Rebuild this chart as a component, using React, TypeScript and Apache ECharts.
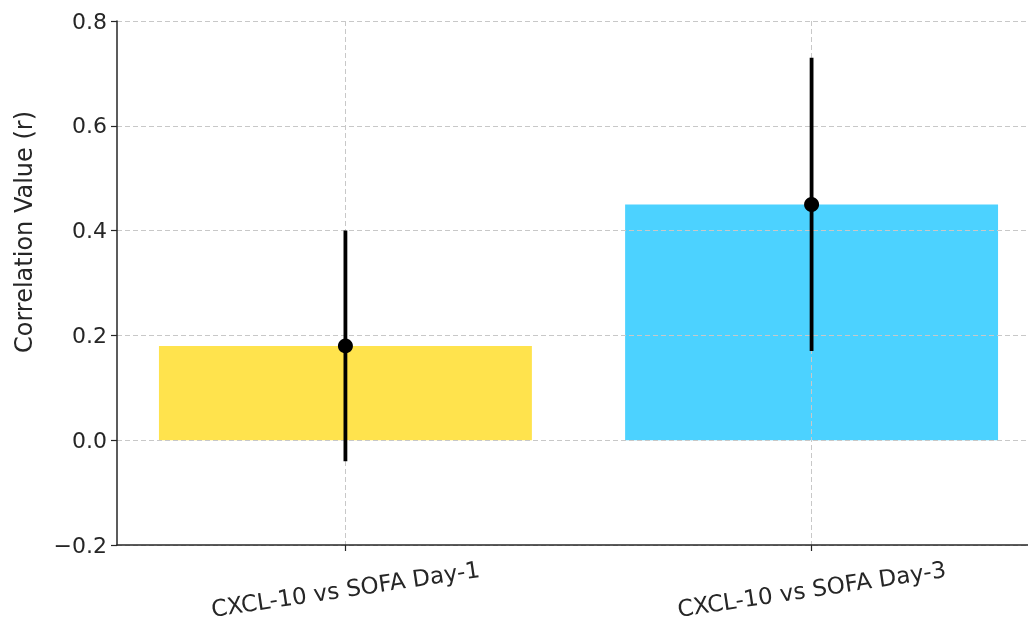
import React, { useEffect, useRef } from "react";
import * as echarts from "echarts";

const categories = ["CXCL-10 vs SOFA Day-1", "CXCL-10 vs SOFA Day-3"];
const positions = [0, 1];
const correlations = [0.18, 0.45];
const ciLower = [-0.04, 0.17];
const ciUpper = [0.4, 0.73];
const barColors = ["#FFE34D", "#4CD2FF"];
const yTicks = [-0.2, 0, 0.2, 0.4, 0.6, 0.8];

const FONT = "DejaVu Sans";

export default function App() {
  const ref = useRef<HTMLDivElement>(null);
  useEffect(() => {
    const chart = echarts.init(ref.current!, null, { renderer: "svg" });
    const splitStyle = { color: "#c8c8c8", width: 1, type: [5, 3] as any };
    const option: any = {
      animation: false,
      grid: { left: 117, right: -12, top: 21, bottom: 81, containLabel: false, outerBoundsMode: "none" },
      xAxis: {
        type: "value",
        min: -0.49,
        max: 1.49,
        z: 1,
        axisLine: { show: true, onZero: false, lineStyle: { color: "#262626", width: 1.5 } },
        axisTick: { show: true, customValues: positions, length: 6, lineStyle: { color: "#262626", width: 1.2 } },
        axisLabel: {
          customValues: positions,
          rotate: 8.5,
          align: "center",
          verticalAlign: "middle",
          margin: 44,
          fontFamily: FONT,
          fontSize: 23,
          color: "#262626",
          formatter: (v: number) => categories[Math.round(v)] ?? "",
        },
        splitLine: { show: true, lineStyle: splitStyle },
      },
      yAxis: {
        type: "value",
        min: yTicks[0],
        max: yTicks[yTicks.length - 1],
        interval: 0.2,
        z: 1,
        axisLine: { show: true, onZero: false, lineStyle: { color: "#262626", width: 1.5 } },
        axisTick: { show: true, length: 6, lineStyle: { color: "#262626", width: 1.2 } },
        axisLabel: {
          margin: 10,
          fontFamily: FONT,
          fontSize: 22,
          color: "#262626",
          formatter: (v: number) => (v < -1e-9 ? "\u2212" + Math.abs(v).toFixed(1) : Math.abs(v).toFixed(1)),
        },
        splitLine: { show: true, lineStyle: splitStyle },
      },
      graphic: [
        {
          type: "text",
          x: 24,
          y: 232,
          rotation: Math.PI / 2,
          style: {
            text: "Correlation Value (r)",
            fontFamily: FONT,
            fontSize: 24,
            fill: "#262626",
            align: "center",
            verticalAlign: "middle",
          },
        },
      ],
      series: [
        {
          type: "custom",
          z: -1,
          data: positions.map((p, i) => [p, correlations[i]]),
          renderItem: (params: any, api: any) => {
            const x = api.value(0);
            const y = api.value(1);
            const p0 = api.coord([x - 0.4, 0]);
            const p1 = api.coord([x + 0.4, y]);
            return {
              type: "rect",
              shape: { x: p0[0], y: Math.min(p0[1], p1[1]), width: p1[0] - p0[0], height: Math.abs(p0[1] - p1[1]) },
              style: { fill: barColors[params.dataIndex] },
            };
          },
        },
        {
          type: "custom",
          z: 5,
          data: positions.map((p, i) => [p, ciLower[i], ciUpper[i]]),
          renderItem: (params: any, api: any) => {
            const x = api.value(0);
            const a = api.coord([x, api.value(1)]);
            const b = api.coord([x, api.value(2)]);
            return {
              type: "line",
              shape: { x1: a[0], y1: a[1], x2: b[0], y2: b[1] },
              style: { stroke: "#000", lineWidth: 3.8 },
            };
          },
        },
        {
          type: "scatter",
          z: 6,
          symbol: "circle",
          symbolSize: 15,
          itemStyle: { color: "#000", opacity: 1 },
          data: positions.map((p, i) => [p, correlations[i]]),
        },
      ],
    };
    chart.setOption(option);
    return () => chart.dispose();
  }, []);
  return (
    <div
      ref={ref}
      style={{ position: "fixed", left: 0, top: 0, width: 1028, height: 626, overflow: "hidden" }}
    />
  );
}
